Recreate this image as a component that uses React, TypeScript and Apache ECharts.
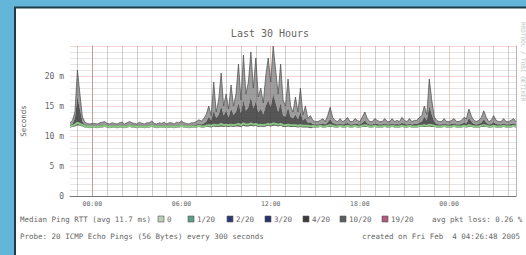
import { useEffect, useRef } from "react";
import * as echarts from "echarts";

// ---- data (10-minute steps, 22:30 -> 04:30 next day, values in ms) ----
const START_HOUR = -1.5;
const STEP_HOURS = 1 / 6;

const median = [
  11.6, 11.7, 11.9, 12.2, 12.0, 11.8, 11.6, 11.6, 11.5, 11.6,
  11.6, 11.5, 11.6, 11.6, 11.7, 11.6, 11.5, 11.6, 11.6, 11.5,
  11.6, 11.6, 11.5, 11.6, 11.7, 11.6, 11.6, 11.5, 11.6, 11.6,
  11.5, 11.6, 11.6, 11.7, 11.6, 11.5, 11.6, 11.6, 11.6, 11.5,
  11.6, 11.6, 11.5, 11.6, 11.6, 11.7, 11.6, 11.6, 11.5, 11.6,
  11.6, 11.6, 11.7, 11.6, 11.6, 11.7, 11.8, 11.7, 11.9, 11.8,
  11.8, 12.0, 11.8, 11.9, 11.8, 11.9, 11.8, 11.9, 12.0, 11.8,
  12.1, 11.9, 11.9, 12.1, 11.9, 12.0, 11.8, 11.9, 11.8, 11.9,
  12.0, 11.9, 12.1, 12.0, 11.9, 12.0, 11.8, 11.8, 11.9, 11.8,
  11.8, 11.8, 11.7, 11.8, 11.7, 11.7, 11.7, 11.6, 11.7, 11.6,
  11.6, 11.7, 11.6, 11.6, 11.7, 11.8, 11.7, 11.6, 11.6, 11.7,
  11.6, 11.6, 11.7, 11.6, 11.6, 11.7, 11.6, 11.6, 11.7, 11.8,
  11.7, 11.6, 11.6, 11.7, 11.6, 11.6, 11.6, 11.7, 11.6, 11.6,
  11.7, 11.6, 11.6, 11.6, 11.7, 11.6, 11.6, 11.7, 11.6, 11.6,
  11.6, 11.7, 11.7, 11.8, 11.7, 11.9, 11.8, 11.7, 11.6, 11.6,
  11.6, 11.7, 11.6, 11.6, 11.6, 11.7, 11.6, 11.6, 11.6, 11.7,
  11.6, 11.8, 11.7, 11.6, 11.6, 11.6, 11.7, 11.8, 11.7, 11.6,
  11.6, 11.7, 11.6, 11.6, 11.6, 11.7, 11.6, 11.6, 11.6, 11.7, 11.6,
];

const smokeLow = [
  11.4, 11.5, 11.6, 11.8, 11.7, 11.6, 11.4, 11.4, 11.3, 11.4,
  11.4, 11.3, 11.4, 11.4, 11.5, 11.4, 11.3, 11.4, 11.4, 11.3,
  11.4, 11.4, 11.3, 11.4, 11.5, 11.4, 11.4, 11.3, 11.4, 11.4,
  11.3, 11.4, 11.4, 11.5, 11.4, 11.3, 11.4, 11.4, 11.4, 11.3,
  11.4, 11.4, 11.3, 11.4, 11.4, 11.5, 11.4, 11.4, 11.3, 11.4,
  11.4, 11.4, 11.5, 11.4, 11.4, 11.5, 11.5, 11.4, 11.6, 11.5,
  11.5, 11.6, 11.5, 11.6, 11.5, 11.6, 11.5, 11.6, 11.6, 11.5,
  11.7, 11.6, 11.6, 11.7, 11.6, 11.7, 11.5, 11.6, 11.5, 11.6,
  11.7, 11.6, 11.7, 11.7, 11.6, 11.7, 11.5, 11.5, 11.6, 11.5,
  11.5, 11.5, 11.4, 11.5, 11.4, 11.4, 11.4, 11.3, 11.4, 11.4,
  11.4, 11.5, 11.4, 11.4, 11.5, 11.5, 11.5, 11.4, 11.4, 11.5,
  11.4, 11.4, 11.5, 11.4, 11.4, 11.5, 11.4, 11.4, 11.5, 11.5,
  11.5, 11.4, 11.4, 11.5, 11.4, 11.4, 11.4, 11.5, 11.4, 11.4,
  11.5, 11.4, 11.4, 11.4, 11.5, 11.4, 11.4, 11.5, 11.4, 11.4,
  11.4, 11.5, 11.5, 11.5, 11.5, 11.6, 11.5, 11.5, 11.4, 11.4,
  11.4, 11.5, 11.4, 11.4, 11.4, 11.5, 11.4, 11.4, 11.4, 11.5,
  11.4, 11.5, 11.5, 11.4, 11.4, 11.4, 11.5, 11.5, 11.5, 11.4,
  11.4, 11.5, 11.4, 11.4, 11.4, 11.5, 11.4, 11.4, 11.4, 11.5, 11.4,
];

const smokeInner = [
  11.8, 12.0, 13.0, 16.5, 14.5, 12.4, 11.8, 11.8, 11.7, 11.8,
  11.8, 11.7, 11.8, 11.8, 11.9, 11.8, 11.7, 11.8, 11.8, 11.7,
  11.8, 11.8, 11.7, 11.8, 11.9, 11.8, 11.8, 11.7, 11.8, 11.8,
  11.7, 11.8, 11.8, 11.9, 11.8, 11.7, 11.8, 11.8, 11.8, 11.7,
  11.8, 11.8, 11.7, 11.8, 11.8, 11.9, 11.8, 11.8, 11.7, 11.8,
  11.8, 11.9, 12.0, 11.9, 12.1, 12.4, 13.2, 12.6, 14.2, 13.0,
  13.5, 15.0, 13.4, 14.2, 13.1, 14.6, 13.5, 14.0, 15.5, 13.8,
  16.0, 14.2, 14.8, 16.5, 14.6, 15.8, 13.9, 14.6, 13.6, 15.0,
  16.0, 14.8, 17.0, 15.5, 14.0, 15.5, 13.4, 13.2, 14.8, 13.2,
  12.9, 13.6, 12.8, 14.0, 12.6, 13.0, 12.2, 12.3, 12.0, 11.9,
  11.9, 12.0, 12.1, 11.9, 12.3, 12.8, 12.2, 12.0, 11.9, 12.1,
  11.9, 12.0, 12.2, 11.9, 11.9, 12.1, 12.0, 11.9, 12.2, 12.6,
  12.1, 11.9, 11.9, 12.1, 12.0, 11.9, 11.9, 12.1, 11.9, 11.9,
  12.1, 11.9, 12.0, 11.9, 12.2, 12.0, 11.9, 12.1, 11.9, 12.0,
  12.0, 12.2, 12.4, 13.2, 12.6, 15.0, 13.6, 12.4, 12.0, 11.9,
  11.9, 12.1, 11.9, 11.9, 12.0, 12.1, 11.9, 11.9, 12.0, 12.2,
  12.1, 13.0, 12.4, 12.0, 11.9, 12.0, 12.2, 12.8, 12.2, 11.9,
  12.0, 12.3, 12.0, 11.9, 11.9, 12.1, 11.9, 11.9, 12.0, 12.1, 11.9,
];

const smokeOuter = [
  12.2, 12.6, 14.0, 21.0, 17.0, 13.2, 12.3, 12.1, 12.0, 12.1,
  12.1, 12.0, 12.2, 12.3, 12.4, 12.1, 12.0, 12.2, 12.1, 12.0,
  12.2, 12.3, 12.0, 12.2, 12.4, 12.2, 12.1, 12.0, 12.3, 12.1,
  12.0, 12.2, 12.2, 12.5, 12.1, 12.0, 12.2, 12.1, 12.3, 12.0,
  12.2, 12.2, 12.0, 12.3, 12.2, 12.5, 12.2, 12.1, 12.0, 12.2,
  12.2, 12.4, 12.7, 12.5, 12.9, 13.6, 15.0, 13.4, 19.0, 14.0,
  16.0, 20.5, 15.0, 17.0, 14.5, 18.5, 15.0, 17.0, 22.0, 16.0,
  23.5, 17.0, 19.0, 24.0, 18.0, 23.0, 16.5, 18.0, 15.5, 20.0,
  23.0, 19.0, 25.0, 21.0, 17.0, 22.0, 16.0, 15.0, 19.5, 15.0,
  14.0, 16.5, 14.0, 18.0, 13.5, 15.0, 12.9, 13.4, 12.6, 12.4,
  12.4, 12.6, 12.9, 12.4, 13.4, 14.8, 13.1, 12.6, 12.4, 12.9,
  12.4, 12.6, 13.1, 12.4, 12.4, 12.9, 12.6, 12.4, 13.2, 14.0,
  12.9, 12.4, 12.4, 12.9, 12.6, 12.4, 12.4, 12.9, 12.4, 12.4,
  12.9, 12.4, 12.6, 12.4, 13.1, 12.6, 12.4, 12.9, 12.4, 12.6,
  12.6, 13.1, 13.4, 15.0, 13.6, 19.5, 16.0, 13.2, 12.6, 12.4,
  12.4, 12.9, 12.4, 12.4, 12.6, 12.9, 12.4, 12.4, 12.6, 13.1,
  12.9, 14.5, 13.3, 12.6, 12.4, 12.6, 13.1, 14.2, 13.1, 12.4,
  12.6, 13.4, 12.6, 12.4, 12.4, 12.9, 12.4, 12.4, 12.6, 12.9, 12.4,
];

const xMajorHours = [0, 6, 12, 18, 24];
const xMajorLabels = ["00:00", "06:00", "12:00", "18:00", "00:00"];
const xMinorHours = [
  -1, 1, 2, 3, 4, 5, 7, 8, 9, 10, 11, 13, 14, 15, 16, 17,
  19, 20, 21, 22, 23, 25, 26, 27, 28,
];

const lossLabels = ["0", "1/20", "2/20", "3/20", "4/20", "10/20", "19/20"];
const lossColors = ["#b9cfb9", "#5f9e8c", "#2c3b78", "#27346a", "#3c3c3c", "#5e5e5e", "#b35b7c"];

const titleText = "Last 30 Hours";
const yTitle = "Seconds";
const legendText = "Median Ping RTT (avg 11.7 ms)";
const lossText = "avg pkt loss: 0.26 %";
const probeText = "Probe: 20 ICMP Echo Pings (56 Bytes) every 300 seconds";
const createdText = "created on Fri Feb  4 04:26:48 2005";

export default function App() {
  const ref = useRef<HTMLDivElement>(null);

  useEffect(() => {
    const chart = echarts.init(ref.current!, null, { renderer: "svg" });
    const mono = "DejaVu Sans Mono";
    const textColor = "#666";
    const hours = median.map((_, i) => START_HOUR + i * STEP_HOURS);
    const slots = median.map((_, i) => String(i));
    const innerH = smokeInner.map((v, i) => +(v - smokeLow[i]).toFixed(2));
    const outerH = smokeOuter.map((v, i) => +(v - smokeInner[i]).toFixed(2));
    const medianPts = median.map((v, i) => [hours[i], v]);

    const legendSwatchX = [158, 188, 227, 265, 303, 340, 382];
    const legendY = 219;
    const graphics: any[] = [
      {
        type: "rect",
        z: -10,
        shape: { x: 15, y: 7.5, width: 530, height: 270 },
        style: { fill: "#ffffff", stroke: "#1f3a4b", lineWidth: 2 },
      },
      {
        type: "text",
        x: 270,
        y: 33,
        style: {
          text: titleText, fontFamily: mono, fontSize: 10, fill: textColor,
          align: "center", verticalAlign: "middle",
        },
      },
      {
        type: "text",
        x: 23,
        y: 121,
        rotation: Math.PI / 2,
        style: {
          text: yTitle, fontFamily: mono, fontSize: 7.5, fill: textColor,
          align: "center", verticalAlign: "middle",
        },
      },
      {
        type: "text",
        x: 523,
        y: 22,
        rotation: -Math.PI / 2,
        style: {
          text: "RRDTOOL / TOBI OETIKER", fontFamily: mono, fontSize: 6, fill: "#c4c4c4",
          align: "left", verticalAlign: "middle",
        },
      },
      {
        type: "text",
        x: 20,
        y: legendY,
        style: { text: legendText, fontFamily: mono, fontSize: 7.5, fill: textColor, verticalAlign: "middle" },
      },
      {
        type: "text",
        x: 432,
        y: legendY,
        style: { text: lossText, fontFamily: mono, fontSize: 7.5, fill: textColor, verticalAlign: "middle" },
      },
      {
        type: "text",
        x: 20,
        y: 236,
        style: { text: probeText, fontFamily: mono, fontSize: 7.5, fill: textColor, verticalAlign: "middle" },
      },
      {
        type: "text",
        x: 362,
        y: 236,
        style: { text: createdText, fontFamily: mono, fontSize: 7.5, fill: textColor, verticalAlign: "middle" },
      },
    ];
    lossLabels.forEach((lbl, k) => {
      graphics.push({
        type: "rect",
        shape: { x: legendSwatchX[k], y: legendY - 3, width: 6, height: 6 },
        style: { fill: lossColors[k], stroke: "#555", lineWidth: 0.6 },
      });
      graphics.push({
        type: "text",
        x: legendSwatchX[k] + 9,
        y: legendY,
        style: { text: lbl, fontFamily: mono, fontSize: 7.5, fill: textColor, verticalAlign: "middle" },
      });
    });

    chart.setOption({
      animation: false,
      backgroundColor: "#63b6d9",
      grid: { left: 70, right: 10, top: 46, bottom: 59 },
      graphic: graphics,
      xAxis: [
        {
          type: "value",
          min: START_HOUR,
          max: START_HOUR + (median.length - 1) * STEP_HOURS,
          splitLine: { show: false },
          axisTick: { show: false },
          axisLine: { show: true, lineStyle: { color: "#777", width: 1 } },
          axisLabel: {
            customValues: xMajorHours,
            formatter: (v: number) => {
              const k = xMajorHours.indexOf(Math.round(v));
              return k >= 0 ? xMajorLabels[k] : "";
            },
            fontFamily: mono,
            fontSize: 6.5,
            color: textColor,
            margin: 4,
          },
        },
        {
          type: "category",
          data: slots,
          boundaryGap: false,
          show: false,
        },
      ],
      yAxis: [
        {
          type: "value",
          min: 0,
          max: 25,
          interval: 5,
          axisLine: { show: true, lineStyle: { color: "#aaa" } },
          axisTick: { show: false },
          axisLabel: {
            showMaxLabel: false,
            formatter: (v: number) => (v === 0 ? "0" : v + " m"),
            fontFamily: mono,
            fontSize: 8,
            color: textColor,
            margin: 6,
          },
          splitLine: { show: true, lineStyle: { color: "rgba(230,140,140,0.35)", width: 1 } },
          minorTick: { show: false, splitNumber: 5 },
          minorSplitLine: { show: true, lineStyle: { color: "rgba(160,160,160,0.28)", width: 1 } },
        },
        {
          type: "value",
          position: "right",
          min: 0,
          max: 25,
          axisLine: { show: true, lineStyle: { color: "#b5b5b5" } },
          axisTick: { show: false },
          axisLabel: { show: false },
          splitLine: { show: false },
        },
      ],
      series: [
        {
          type: "line",
          name: "gridMinor",
          xAxisIndex: 0,
          data: medianPts,
          symbol: "none",
          lineStyle: { opacity: 0, width: 0 },
          silent: true,
          z: 1,
          markLine: {
            silent: true,
            z: 1,
            symbol: "none",
            label: { show: false },
            lineStyle: { color: "rgba(140,140,140,0.42)", width: 1, type: "solid" },
            data: xMinorHours.map((h) => ({ xAxis: h })),
          },
        },
        {
          type: "line",
          name: "gridMajor",
          xAxisIndex: 0,
          data: medianPts,
          symbol: "none",
          lineStyle: { opacity: 0, width: 0 },
          silent: true,
          z: 1,
          markLine: {
            silent: true,
            z: 1,
            symbol: "none",
            label: { show: false },
            lineStyle: { color: "rgba(225,140,140,0.45)", width: 1, type: "solid" },
            data: xMajorHours.map((h) => ({ xAxis: h })),
          },
        },
        {
          type: "line",
          name: "base",
          xAxisIndex: 1,
          stack: "smoke",
          data: smokeLow,
          symbol: "none",
          lineStyle: { opacity: 0, width: 0 },
          silent: true,
          z: 3,
        },
        {
          type: "line",
          name: "inner",
          xAxisIndex: 1,
          stack: "smoke",
          data: innerH,
          symbol: "none",
          lineStyle: { width: 0, opacity: 0 },
          areaStyle: { color: "#383838", opacity: 0.85 },
          silent: true,
          z: 3,
        },
        {
          type: "line",
          name: "outer",
          xAxisIndex: 1,
          stack: "smoke",
          data: outerH,
          symbol: "none",
          lineStyle: { width: 0.7, color: "#4a4a4a" },
          areaStyle: { color: "#5e5e5e", opacity: 0.6 },
          silent: true,
          z: 3,
        },
        {
          type: "line",
          name: "median",
          xAxisIndex: 0,
          data: medianPts,
          symbol: "none",
          lineStyle: { color: "#8cc785", width: 2 },
          silent: true,
          z: 4,
        },
      ],
    });
    return () => chart.dispose();
  }, []);

  return (
    <div
      ref={ref}
      style={{ position: "absolute", left: 0, top: 0, width: 526, height: 255 }}
    />
  );
}
